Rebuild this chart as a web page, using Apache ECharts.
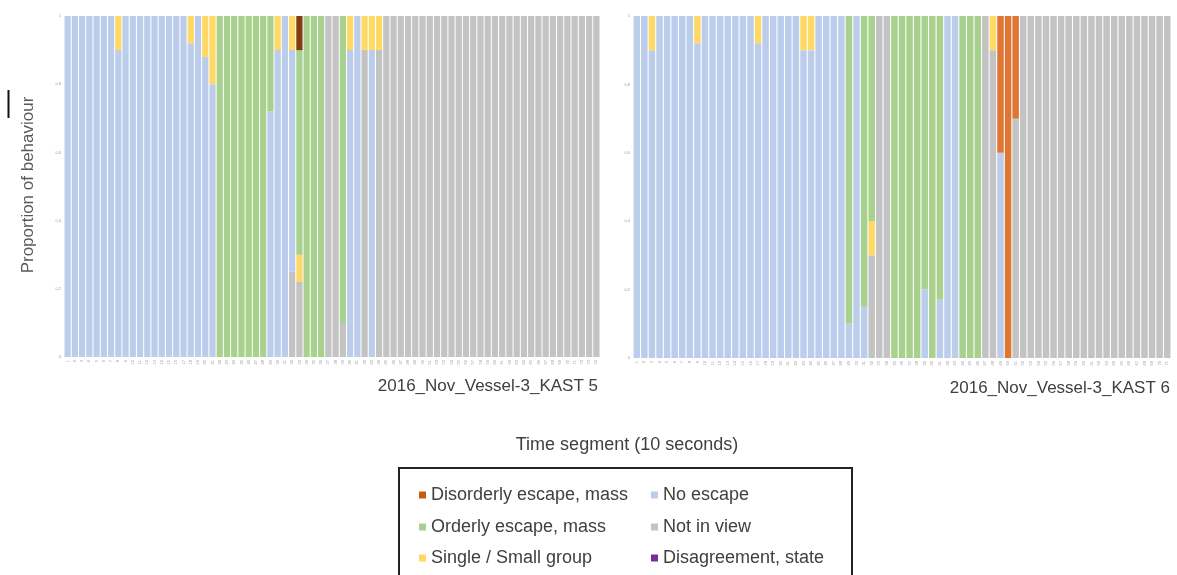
<!DOCTYPE html>
<html>
<head>
<meta charset="utf-8">
<script src="https://cdn.jsdelivr.net/npm/echarts@6/dist/echarts.min.js"></script>
<style>
html,body{margin:0;padding:0;background:#fff;}
#chart{width:1177px;height:575px;}
</style>
</head>
<body>
<div id="chart"></div>
<script>
// ---- Data: KAST 5 (left panel), 74 time segments ----
const leftCats = Array.from({length: 74}, (_, i) => String(i + 1));
const leftNotInView = [0,0,0,0,0,0,0,0,0,0, 0,0,0,0,0,0,0,0,0,0, 0,0,0,0,0,0,0,0,0,0,
  0,.25,.22,0,0,0,1,1,.1,0, 0,.9,0,.9,1,1,1,1,1,1, 1,1,1,1,1,1,1,1,1,1, 1,1,1,1,1,1,1,1,1,1, 1,1,1,1];
const leftNoEscape = [1,1,1,1,1,1,1,.9,1,1, 1,1,1,1,1,1,1,.92,1,.88, .8,0,0,0,0,0,0,0,.72,.9,
  1,.65,0,0,0,0,0,0,0,.9, 1,0,.9,0,0,0,0,0,0,0, 0,0,0,0,0,0,0,0,0,0, 0,0,0,0,0,0,0,0,0,0, 0,0,0,0];
const leftSingle = [0,0,0,0,0,0,0,.1,0,0, 0,0,0,0,0,0,0,.08,0,.12, .2,0,0,0,0,0,0,0,0,.1,
  0,.1,.08,0,0,0,0,0,0,.1, 0,.1,.1,.1,0,0,0,0,0,0, 0,0,0,0,0,0,0,0,0,0, 0,0,0,0,0,0,0,0,0,0, 0,0,0,0];
const leftOrderly = [0,0,0,0,0,0,0,0,0,0, 0,0,0,0,0,0,0,0,0,0, 0,1,1,1,1,1,1,1,.28,0,
  0,0,.6,1,1,1,0,0,.9,0, 0,0,0,0,0,0,0,0,0,0, 0,0,0,0,0,0,0,0,0,0, 0,0,0,0,0,0,0,0,0,0, 0,0,0,0];
const leftDisorderly = [0,0,0,0,0,0,0,0,0,0, 0,0,0,0,0,0,0,0,0,0, 0,0,0,0,0,0,0,0,0,0,
  0,0,.1,0,0,0,0,0,0,0, 0,0,0,0,0,0,0,0,0,0, 0,0,0,0,0,0,0,0,0,0, 0,0,0,0,0,0,0,0,0,0, 0,0,0,0];
const leftDisagreement = new Array(74).fill(0);

// ---- Data: KAST 6 (right panel), 71 time segments ----
const rightCats = Array.from({length: 71}, (_, i) => String(i + 1));
const rightNotInView = [0,0,0,0,0,0,0,0,0,0, 0,0,0,0,0,0,0,0,0,0, 0,0,0,0,0,0,0,0,0,0,
  0,.3,1,1,0,0,0,0,0,0, 0,0,0,0,0,0,1,.9,0,0, .7,1,1,1,1,1,1,1,1,1, 1,1,1,1,1,1,1,1,1,1, 1];
const rightNoEscape = [1,1,.9,1,1,1,1,1,.92,1, 1,1,1,1,1,1,.92,1,1,1, 1,1,.9,.9,1,1,1,1,.1,1,
  .15,0,0,0,0,0,0,0,.2,0, .17,1,1,0,0,0,0,0,.6,0, 0,0,0,0,0,0,0,0,0,0, 0,0,0,0,0,0,0,0,0,0, 0];
const rightSingle = [0,0,.1,0,0,0,0,0,.08,0, 0,0,0,0,0,0,.08,0,0,0, 0,0,.1,.1,0,0,0,0,0,0,
  0,.1,0,0,0,0,0,0,0,0, 0,0,0,0,0,0,0,.1,0,0, 0,0,0,0,0,0,0,0,0,0, 0,0,0,0,0,0,0,0,0,0, 0];
const rightOrderly = [0,0,0,0,0,0,0,0,0,0, 0,0,0,0,0,0,0,0,0,0, 0,0,0,0,0,0,0,0,.9,0,
  .85,.6,0,0,1,1,1,1,.8,1, .83,0,0,1,1,1,0,0,0,0, 0,0,0,0,0,0,0,0,0,0, 0,0,0,0,0,0,0,0,0,0, 0];
const rightDisorderly = [0,0,0,0,0,0,0,0,0,0, 0,0,0,0,0,0,0,0,0,0, 0,0,0,0,0,0,0,0,0,0,
  0,0,0,0,0,0,0,0,0,0, 0,0,0,0,0,0,0,0,.4,1, .3,0,0,0,0,0,0,0,0,0, 0,0,0,0,0,0,0,0,0,0, 0];
const rightDisagreement = new Array(71).fill(0);

const panelTitles = ['2016_Nov_Vessel-3_KAST 5', '2016_Nov_Vessel-3_KAST 6'];
const yTicks = [0, 0.2, 0.4, 0.6, 0.8, 1];

const C = {
  notInView: '#C3C3C3', noEscape: '#BCCDEB', single: '#FFD966',
  orderly: '#A9D18E', disorderlyL: '#843C0C', disorderlyR: '#DF7634',
  disorderlyLegend: '#C55A11', disagreement: '#7030A0'
};
const N = {
  dis: 'Disorderly escape, mass', ord: 'Orderly escape, mass', sin: 'Single / Small group',
  no: 'No escape', niv: 'Not in view', dag: 'Disagreement, state'
};

function mk(name, data, color, idx, stack) {
  return {
    name, type: 'bar', stack, data, xAxisIndex: idx, yAxisIndex: idx,
    barCategoryGap: '14%', itemStyle: { color }, emphasis: { disabled: true },
    animation: false
  };
}

const xAxisCommon = {
  type: 'category', axisLine: { show: false }, axisTick: { show: false },
  axisLabel: { interval: 0, rotate: 90, fontSize: 4, color: '#9a9a9a', margin: 3, fontFamily: 'Liberation Sans' }
};
const yAxisCommon = {
  type: 'value', min: 0, max: 1, interval: 0.2,
  splitLine: { show: false }, axisLine: { show: false }, axisTick: { show: false },
  axisLabel: { fontSize: 4, color: '#9a9a9a', margin: 3, fontFamily: 'Liberation Sans',
    formatter: v => (yTicks.includes(v) ? (v === 0 || v === 1 ? String(v) : v.toFixed(1)) : '') }
};

const legendText = { fontSize: 18, color: '#404040', fontFamily: 'Liberation Sans', lineHeight: 18 };
function lg(name, color, left, centerY) {
  return { orient: 'horizontal', left, top: centerY - 9, itemWidth: 7, itemHeight: 7, icon: 'rect',
    textStyle: legendText, selectedMode: false, padding: 0,
    data: [{ name, itemStyle: { color } }] };
}

const option = {
  backgroundColor: '#fff',
  animation: false,
  grid: [
    { left: 64, right: 577, top: 16, bottom: 218 },
    { left: 633, right: 6, top: 16, bottom: 217 }
  ],
  xAxis: [
    Object.assign({}, xAxisCommon, { gridIndex: 0, data: leftCats }),
    Object.assign({}, xAxisCommon, { gridIndex: 1, data: rightCats })
  ],
  yAxis: [
    Object.assign({}, yAxisCommon, { gridIndex: 0 }),
    Object.assign({}, yAxisCommon, { gridIndex: 1 })
  ],
  legend: [
    lg(N.dis, C.disorderlyLegend, 419, 495),
    lg(N.ord, C.orderly, 419, 527),
    lg(N.sin, C.single, 419, 558),
    lg(N.no, C.noEscape, 651, 495),
    lg(N.niv, C.notInView, 651, 527),
    lg(N.dag, C.disagreement, 651, 558)
  ],
  series: [
    mk(N.niv, leftNotInView, C.notInView, 0, 'L'),
    mk(N.no, leftNoEscape, C.noEscape, 0, 'L'),
    mk(N.sin, leftSingle, C.single, 0, 'L'),
    mk(N.ord, leftOrderly, C.orderly, 0, 'L'),
    mk(N.dis, leftDisorderly, C.disorderlyL, 0, 'L'),
    mk(N.dag, leftDisagreement, C.disagreement, 0, 'L'),
    mk(N.niv, rightNotInView, C.notInView, 1, 'R'),
    mk(N.no, rightNoEscape, C.noEscape, 1, 'R'),
    mk(N.sin, rightSingle, C.single, 1, 'R'),
    mk(N.ord, rightOrderly, C.orderly, 1, 'R'),
    mk(N.dis, rightDisorderly, C.disorderlyR, 1, 'R'),
    mk(N.dag, rightDisagreement, C.disagreement, 1, 'R')
  ],
  graphic: [
    { type: 'text', x: 598, y: 386, style: { text: panelTitles[0], align: 'right', verticalAlign: 'middle',
      fontSize: 17, fill: '#404040', fontFamily: 'Liberation Sans' } },
    { type: 'text', x: 1170, y: 388, style: { text: panelTitles[1], align: 'right', verticalAlign: 'middle',
      fontSize: 17, fill: '#404040', fontFamily: 'Liberation Sans' } },
    { type: 'text', x: 627, y: 445, style: { text: 'Time segment (10 seconds)', align: 'center', verticalAlign: 'middle',
      fontSize: 18, fill: '#404040', fontFamily: 'Liberation Sans' } },
    { type: 'text', x: 28, y: 185, rotation: Math.PI / 2, style: { text: 'Proportion of behaviour', align: 'center', verticalAlign: 'middle',
      fontSize: 17, fill: '#595959', fontFamily: 'Liberation Sans' } },
    { type: 'line', shape: { x1: 8.5, y1: 90, x2: 8.5, y2: 118 }, style: { stroke: '#111', lineWidth: 2 } },
    { type: 'rect', shape: { x: 399, y: 468, width: 453, height: 130 }, style: { fill: 'none', stroke: '#222', lineWidth: 2 } }
  ]
};

const chart = echarts.init(document.getElementById('chart'), null, { renderer: 'canvas' });
chart.setOption(option);
</script>
</body>
</html>
